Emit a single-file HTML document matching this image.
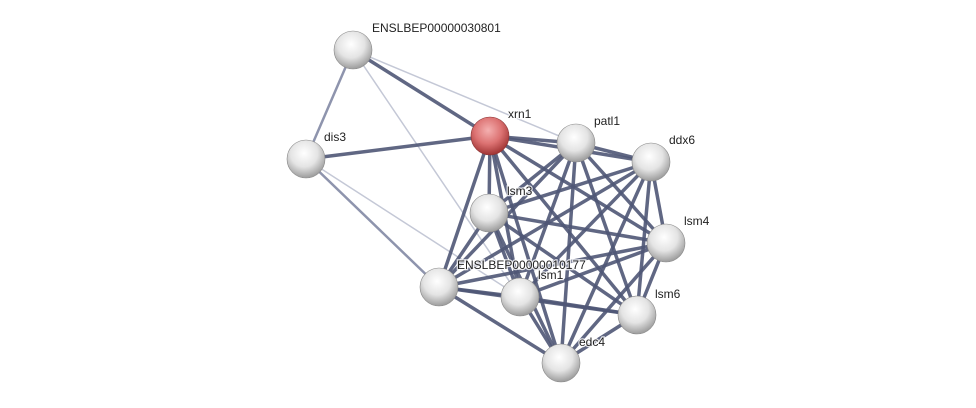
<!DOCTYPE html>
<html><head><meta charset="utf-8"><style>
html,body{margin:0;padding:0;background:#fff;width:976px;height:408px;overflow:hidden}
text{font-family:"Liberation Sans",sans-serif;font-size:12px;fill:#222;stroke:#fff;stroke-width:2.5px;paint-order:stroke;stroke-opacity:0.8}
</style></head><body>
<svg width="976" height="408" xmlns="http://www.w3.org/2000/svg">
<defs>
<radialGradient id="g" cx="45%" cy="35%" r="65%">
<stop offset="0" stop-color="#ffffff"/><stop offset="0.55" stop-color="#e4e4e4"/><stop offset="1" stop-color="#9c9c9c"/></radialGradient>
<radialGradient id="r" cx="45%" cy="35%" r="65%">
<stop offset="0" stop-color="#f4b0b0"/><stop offset="0.55" stop-color="#dc7272"/><stop offset="1" stop-color="#a03434"/></radialGradient>
</defs>
<g stroke-linecap="round">
<g stroke="#c4c8d6" stroke-width="1.5">
<line x1="353" y1="50" x2="576" y2="143"/>
<line x1="353" y1="50" x2="520" y2="297"/>
<line x1="306" y1="159" x2="520" y2="297"/>
</g>
<g stroke="#8e94ad" stroke-width="2.5">
<line x1="353" y1="50" x2="306" y2="159"/>
<line x1="306" y1="159" x2="439" y2="287"/>
</g>
<g stroke="#4f5675" stroke-width="3.5" stroke-opacity="0.9">
<line x1="353" y1="50" x2="490" y2="136"/>
<line x1="306" y1="159" x2="490" y2="136"/>
<line x1="490" y1="136" x2="576" y2="143"/>
<line x1="490" y1="136" x2="651" y2="162"/>
<line x1="490" y1="136" x2="489" y2="213"/>
<line x1="490" y1="136" x2="666" y2="243"/>
<line x1="490" y1="136" x2="439" y2="287"/>
<line x1="490" y1="136" x2="520" y2="297"/>
<line x1="490" y1="136" x2="637" y2="315"/>
<line x1="490" y1="136" x2="561" y2="363"/>
<line x1="576" y1="143" x2="651" y2="162"/>
<line x1="576" y1="143" x2="489" y2="213"/>
<line x1="576" y1="143" x2="666" y2="243"/>
<line x1="576" y1="143" x2="439" y2="287"/>
<line x1="576" y1="143" x2="520" y2="297"/>
<line x1="576" y1="143" x2="637" y2="315"/>
<line x1="576" y1="143" x2="561" y2="363"/>
<line x1="651" y1="162" x2="489" y2="213"/>
<line x1="651" y1="162" x2="666" y2="243"/>
<line x1="651" y1="162" x2="439" y2="287"/>
<line x1="651" y1="162" x2="520" y2="297"/>
<line x1="651" y1="162" x2="637" y2="315"/>
<line x1="651" y1="162" x2="561" y2="363"/>
<line x1="489" y1="213" x2="666" y2="243"/>
<line x1="489" y1="213" x2="439" y2="287"/>
<line x1="489" y1="213" x2="520" y2="297"/>
<line x1="489" y1="213" x2="637" y2="315"/>
<line x1="489" y1="213" x2="561" y2="363"/>
<line x1="666" y1="243" x2="439" y2="287"/>
<line x1="666" y1="243" x2="520" y2="297"/>
<line x1="666" y1="243" x2="637" y2="315"/>
<line x1="666" y1="243" x2="561" y2="363"/>
<line x1="439" y1="287" x2="520" y2="297"/>
<line x1="439" y1="287" x2="637" y2="315"/>
<line x1="439" y1="287" x2="561" y2="363"/>
<line x1="520" y1="297" x2="637" y2="315"/>
<line x1="520" y1="297" x2="561" y2="363"/>
<line x1="637" y1="315" x2="561" y2="363"/>
</g>
</g>
<g>
<circle cx="353" cy="50" r="19" fill="url(#g)" stroke="#888" stroke-width="0.6"/>
<circle cx="306" cy="159" r="19" fill="url(#g)" stroke="#888" stroke-width="0.6"/>
<circle cx="490" cy="136" r="19" fill="url(#r)" stroke="#833" stroke-width="0.6"/>
<circle cx="576" cy="143" r="19" fill="url(#g)" stroke="#888" stroke-width="0.6"/>
<circle cx="651" cy="162" r="19" fill="url(#g)" stroke="#888" stroke-width="0.6"/>
<circle cx="489" cy="213" r="19" fill="url(#g)" stroke="#888" stroke-width="0.6"/>
<circle cx="666" cy="243" r="19" fill="url(#g)" stroke="#888" stroke-width="0.6"/>
<circle cx="439" cy="287" r="19" fill="url(#g)" stroke="#888" stroke-width="0.6"/>
<circle cx="520" cy="297" r="19" fill="url(#g)" stroke="#888" stroke-width="0.6"/>
<circle cx="637" cy="315" r="19" fill="url(#g)" stroke="#888" stroke-width="0.6"/>
<circle cx="561" cy="363" r="19" fill="url(#g)" stroke="#888" stroke-width="0.6"/>
</g>
<text x="372" y="32">ENSLBEP00000030801</text>
<text x="324" y="141">dis3</text>
<text x="508" y="118">xrn1</text>
<text x="594" y="125">patl1</text>
<text x="669" y="144">ddx6</text>
<text x="507" y="195">lsm3</text>
<text x="684" y="225">lsm4</text>
<text x="457" y="269">ENSLBEP00000010177</text>
<text x="538" y="279">lsm1</text>
<text x="655" y="298">lsm6</text>
<text x="579" y="346">edc4</text>
</svg>
</body></html>
